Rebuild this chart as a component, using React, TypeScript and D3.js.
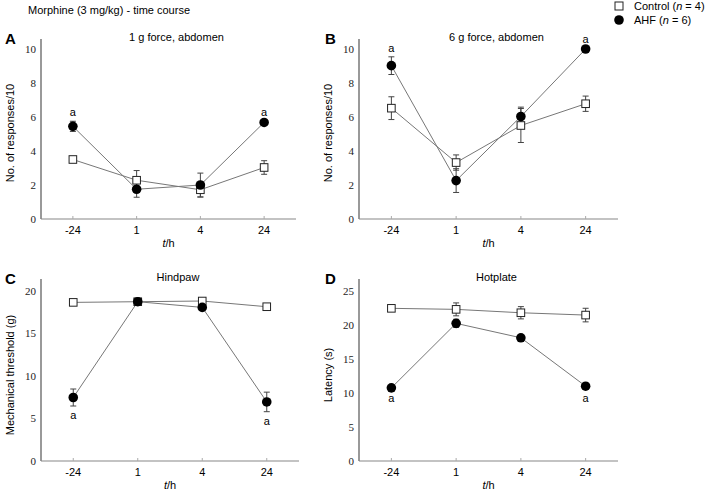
import React from 'react';
import * as d3 from 'd3';

// time points
const times = ['-24', '1', '4', '24'];

// A: 1 g force, abdomen
const ctrlA = [3.5, 2.28, 1.72, 3.03];
const ctrlAErr = [0.1, 0.57, 0.43, 0.4];
const ahfA = [5.45, 1.75, 2.0, 5.68];
const ahfAErr = [0.3, 0.47, 0.7, 0.1];

// B: 6 g force, abdomen
const ctrlB = [6.52, 3.32, 5.5, 6.78];
const ctrlBErr = [0.67, 0.45, 1.0, 0.45];
const ahfB = [9.02, 2.26, 6.03, 10.0];
const ahfBErr = [0.52, 0.7, 0.55, 0.05];

// C: Hindpaw
const ctrlC = [18.66, 18.74, 18.82, 18.15];
const ctrlCErr = [0.15, 0.15, 0.15, 0.2];
const ahfC = [7.47, 18.74, 18.07, 6.95];
const ahfCErr = [1.0, 0.15, 0.25, 1.15];

// D: Hotplate
const ctrlD = [22.45, 22.3, 21.8, 21.46];
const ctrlDErr = [0.1, 0.95, 0.9, 1.0];
const ahfD = [10.76, 20.24, 18.12, 11.0];
const ahfDErr = [0.1, 0.6, 0.4, 0.4];

const yTicksAB = [0, 2, 4, 6, 8, 10];
const yTicksC = [0, 5, 10, 15, 20];
const yTicksD = [0, 5, 10, 15, 20, 25];

const panels = [
  { letter: 'A', title: '1 g force, abdomen', ylabel: 'No. of responses/10', x0: 41, x1: 296, y0: 219, top: 39, max: 10, ticks: yTicksAB,
    ctrl: ctrlA, ctrlErr: ctrlAErr, ahf: ahfA, ahfErr: ahfAErr, sig: [0, 3], sigAbove: true },
  { letter: 'B', title: '6 g force, abdomen', ylabel: 'No. of responses/10', x0: 359, x1: 618, y0: 219, top: 39, max: 10, ticks: yTicksAB,
    ctrl: ctrlB, ctrlErr: ctrlBErr, ahf: ahfB, ahfErr: ahfBErr, sig: [0, 3], sigAbove: true },
  { letter: 'C', title: 'Hindpaw', ylabel: 'Mechanical  threshold (g)', x0: 41, x1: 299, y0: 461, top: 279, max: 20, ticks: yTicksC,
    ctrl: ctrlC, ctrlErr: ctrlCErr, ahf: ahfC, ahfErr: ahfCErr, sig: [0, 3], sigAbove: false },
  { letter: 'D', title: 'Hotplate', ylabel: 'Latency (s)', x0: 359, x1: 618, y0: 461, top: 279, max: 25, ticks: yTicksD,
    ctrl: ctrlD, ctrlErr: ctrlDErr, ahf: ahfD, ahfErr: ahfDErr, sig: [0, 3], sigAbove: false },
];

const sans = 'Tahoma, "Liberation Sans", Arial, sans-serif';
const axisColor = '#555';
const lineColor = '#777';

function Panel({ p }: { p: any }) {
  const x = d3.scalePoint().domain(times).range([p.x0, p.x1]).padding(0.5);
  // top tick sits 170 px above zero
  const y = d3.scaleLinear().domain([0, p.max]).range([p.y0, p.y0 - 170]);
  const line = d3.line<number>().x((d, i) => x(times[i])!).y(d => y(d));
  const cx = (p.x0 + p.x1) / 2;

  const errBars = (vals: number[], errs: number[], key: string) =>
    vals.map((v, i) => {
      const xx = x(times[i])!;
      const a = y(v + errs[i]);
      const b = y(v - errs[i]);
      return (
        <g key={key + i} stroke="#444" strokeWidth={1}>
          <line x1={xx} x2={xx} y1={a} y2={b} />
          <line x1={xx - 3} x2={xx + 3} y1={a} y2={a} />
          <line x1={xx - 3} x2={xx + 3} y1={b} y2={b} />
        </g>
      );
    });

  return (
    <g>
      <text x={p.letter === 'A' || p.letter === 'C' ? 5 : 325} y={p.top + 5} fontFamily={sans} fontWeight="bold" fontSize={15}>{p.letter}</text>
      <text x={cx + 8} y={p.top + 2} textAnchor="middle" fontFamily={sans} fontSize={11}>{p.title}</text>
      {/* axes */}
      <line x1={p.x0} x2={p.x0} y1={p.top} y2={p.y0} stroke={axisColor} strokeWidth={1.2} />
      <line x1={p.x0} x2={p.x1} y1={p.y0} y2={p.y0} stroke="#888" strokeWidth={1.2} />
      {p.ticks.map((t: number) => (
        <text key={'yt' + t} x={p.x0 - 5} y={y(t) + 3.5} textAnchor="end" fontFamily='"Liberation Serif", "DejaVu Serif", serif' fontSize={11} fill="#222">{t}</text>
      ))}
      {times.map(t => (
        <g key={'xt' + t}>
          <line x1={x(t)} x2={x(t)} y1={p.y0} y2={p.y0 - 3} stroke="#aaa" />
          <text x={x(t)} y={p.y0 + 15} textAnchor="middle" fontFamily={sans} fontSize={11}>{t}</text>
        </g>
      ))}
      <text x={cx} y={p.y0 + 28} textAnchor="middle" fontFamily={sans} fontSize={11}>
        <tspan fontStyle="italic">t</tspan>/h
      </text>
      <text transform={`translate(${p.x0 - 27},${p.y0 - 86}) rotate(-90)`} textAnchor="middle" fontFamily={sans} fontSize={11}>{p.ylabel}</text>
      {/* series lines */}
      <path d={line(p.ctrl) || ''} fill="none" stroke={lineColor} strokeWidth={1} />
      <path d={line(p.ahf) || ''} fill="none" stroke={lineColor} strokeWidth={1} />
      {errBars(p.ctrl, p.ctrlErr, 'ce')}
      {errBars(p.ahf, p.ahfErr, 'ae')}
      {p.ctrl.map((v: number, i: number) => (
        <rect key={'cs' + i} x={x(times[i])! - 3.8} y={y(v) - 3.8} width={7.6} height={7.6} fill="#fff" stroke="#222" strokeWidth={1} />
      ))}
      {p.ahf.map((v: number, i: number) => (
        <circle key={'ac' + i} cx={x(times[i])} cy={y(v)} r={4.8} fill="#000" />
      ))}
      {p.sig.map((i: number) => {
        const v = p.ahf[i];
        const yy = p.sigAbove ? y(v + p.ahfErr[i]) - 5 : y(v - p.ahfErr[i]) + 13;
        return <text key={'sg' + i} x={x(times[i])} y={yy} textAnchor="middle" fontFamily={sans} fontSize={11}>a</text>;
      })}
    </g>
  );
}

export default function App() {
  return (
    <svg width={706} height={496} style={{ display: 'block', position: 'absolute', left: 0, top: 0, background: '#fff' }}>
      <rect width={706} height={496} fill="#fff" />
      <text x={28} y={14} fontFamily={sans} fontSize={11}>Morphine (3 mg/kg) - time course</text>
      {/* legend */}
      <rect x={615} y={2} width={8} height={8} fill="#fff" stroke="#222" />
      <text x={634} y={10} fontFamily={sans} fontSize={11}>Control (<tspan fontStyle="italic">n</tspan> = 4)</text>
      <circle cx={619} cy={20} r={4.8} fill="#000" />
      <text x={634} y={24} fontFamily={sans} fontSize={11}>AHF (<tspan fontStyle="italic">n</tspan> = 6)</text>
      {panels.map(p => <Panel key={p.letter} p={p} />)}
    </svg>
  );
}
